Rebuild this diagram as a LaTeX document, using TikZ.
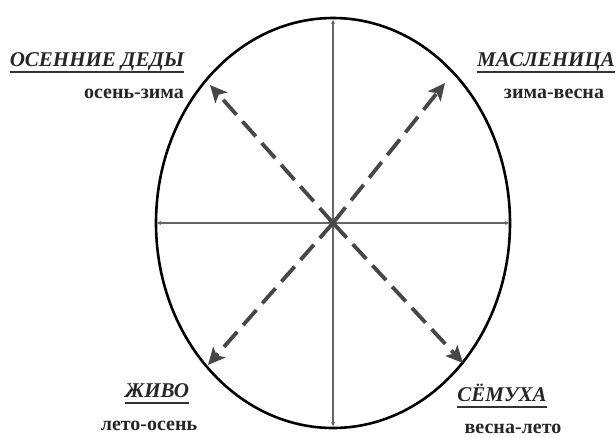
\documentclass[tikz,border=0pt]{standalone}
\usepackage{fontspec}
\setmainfont{Liberation Serif}
\usetikzlibrary{arrows.meta, positioning, calc}

\tikzset{
  axisline/.style={draw=black!60, line width=1.6pt, {Stealth[length=4pt,width=4pt]}-{Stealth[length=4pt,width=4pt]}},
  festarrow/.style={draw=black!72, line width=3.8pt, dash pattern=on 20pt off 9pt, -{Stealth[length=17pt,width=16pt,inset=4pt]}},
  festname/.style={font=\fontsize{21}{21}\selectfont\bfseries\itshape, text=black!85, inner sep=0pt, anchor=base},
  season/.style={font=\fontsize{20}{20}\selectfont\bfseries, text=black!85, inner sep=0pt, anchor=base},
  uline/.style={draw=black!80, line width=2pt},
}

\begin{document}
\begin{tikzpicture}[x=1pt, y=-1pt]

    \useasboundingbox (0,0) rectangle (616,437);

    % --- Centre and ellipse ---
    \coordinate (O) at (333,223);
    \draw[line width=2.6pt] (O) ellipse [x radius=177, y radius=205];

    % --- Cross ---
    \coordinate (top) at (333,20);
    \coordinate (bot) at (333,426);
    \coordinate (lft) at (157,223);
    \coordinate (rgt) at (509,223);
    \draw[axisline] (top) -- (bot);
    \draw[axisline] (lft) -- (rgt);

    % --- Dashed arrows from the centre ---
    \coordinate (nw) at (210,85);
    \coordinate (ne) at (445,83);
    \coordinate (sw) at (208,365);
    \coordinate (se) at (463,363);
    \foreach \t in {nw,ne,sw,se}
        \draw[festarrow] (O) -- (\t);

    % --- Labels ---
    \node[festname] (osen) at (97,66) {ОСЕННИЕ ДЕДЫ};
    \node[season] (osenzima) at (134,98) {осень-зима};

    \node[festname] (masl) at (546,66) {МАСЛЕНИЦА};
    \node[season] (zimavesna) at (554,98) {зима-весна};

    \node[festname] (zhivo) at (157,397) {ЖИВО};
    \node[season] (letoosen) at (149,430) {лето-осень};

    \node[festname] (semukha) at (502,401) {СЁМУХА};
    \node[season] (vesnaleto) at (513,433) {весна-лето};

    % underlines
    \foreach \n in {osen,masl,zhivo,semukha}
        \draw[uline] ([yshift=-6pt]\n.base west) -- ([yshift=-6pt]\n.base east);

\end{tikzpicture}
\end{document}
